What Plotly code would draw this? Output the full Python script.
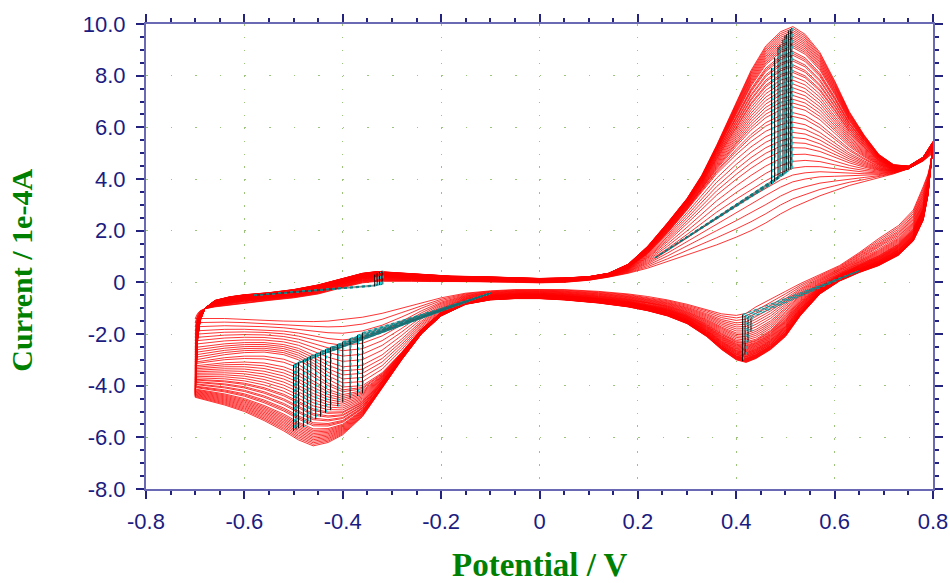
import plotly.graph_objects as go

# ---------------- data ----------------
# potentials of the forward (anodic) sweep, V
E_fwd = [-0.70, -0.698, -0.695, -0.69, -0.68, -0.66, -0.63, -0.60, -0.55, -0.50,
         -0.45, -0.40, -0.36, -0.33, -0.30, -0.26, -0.22, -0.18, -0.12, -0.05,
         0.0, 0.05, 0.10, 0.14, 0.18, 0.22, 0.26, 0.30, 0.33, 0.36,
         0.40, 0.43, 0.46, 0.49, 0.515, 0.54, 0.57, 0.60, 0.63, 0.66,
         0.69, 0.72, 0.75, 0.78, 0.80]
# forward sweep current (1e-4 A): first, a middle and the last cycle
I_fwd_first = [-1.40, -1.30, -1.20, -1.10, -1.02, -0.95, -0.88, -0.80, -0.70, -0.60,
               -0.45, -0.20, -0.02, 0.04, 0.05, 0.04, 0.03, 0.03, 0.03, 0.00,
               -0.02, 0.00, 0.08, 0.20, 0.35, 0.55, 0.80, 1.05, 1.25, 1.45,
               1.75, 2.00, 2.30, 2.65, 2.90, 3.10, 3.35, 3.55, 3.75, 3.90,
               4.05, 4.20, 4.40, 4.70, 5.00]
I_fwd_mid = [-3.00, -2.30, -1.70, -1.30, -1.00, -0.82, -0.72, -0.64, -0.55, -0.45,
             -0.28, -0.02, 0.17, 0.23, 0.22, 0.18, 0.15, 0.13, 0.12, 0.08,
             0.06, 0.08, 0.15, 0.28, 0.55, 1.10, 1.90, 2.80, 3.50, 4.20,
             4.95, 5.45, 5.85, 6.10, 6.20, 6.10, 5.80, 5.40, 5.00, 4.70,
             4.45, 4.35, 4.40, 4.75, 5.30]
I_fwd_last = [-4.45, -3.20, -2.20, -1.50, -1.00, -0.70, -0.56, -0.48, -0.40, -0.28,
              -0.10, 0.15, 0.35, 0.42, 0.38, 0.32, 0.27, 0.24, 0.22, 0.17,
              0.15, 0.17, 0.22, 0.35, 0.70, 1.40, 2.30, 3.25, 4.15, 5.30,
              6.95, 8.20, 9.15, 9.70, 9.90, 9.60, 8.90, 7.80, 6.60, 5.70,
              4.95, 4.55, 4.50, 4.85, 5.45]

# potentials of the reverse (cathodic) sweep, V
E_rev = [0.80, 0.795, 0.79, 0.78, 0.76, 0.73, 0.69, 0.65, 0.61, 0.57,
         0.53, 0.50, 0.47, 0.44, 0.42, 0.40, 0.37, 0.34, 0.30, 0.26,
         0.22, 0.18, 0.12, 0.05, 0.0, -0.05, -0.10, -0.15, -0.20, -0.24,
         -0.28, -0.32, -0.36, -0.40, -0.43, -0.46, -0.49, -0.52, -0.56, -0.60,
         -0.64, -0.67, -0.70]
I_rev_first = [5.00, 4.60, 4.20, 3.70, 2.80, 2.20, 1.70, 1.15, 0.65, 0.30,
               -0.05, -0.35, -0.65, -0.95, -1.20, -1.28, -1.22, -1.05, -0.85, -0.68,
               -0.55, -0.45, -0.35, -0.28, -0.27, -0.28, -0.33, -0.42, -0.60, -0.80,
               -1.00, -1.20, -1.35, -1.45, -1.50, -1.52, -1.52, -1.50, -1.47, -1.43,
               -1.40, -1.40, -1.40]
I_rev_mid = [5.30, 4.40, 3.70, 2.90, 2.10, 1.50, 1.05, 0.70, 0.30, -0.15,
             -0.70, -1.30, -1.85, -2.20, -2.30, -2.25, -1.95, -1.60, -1.25, -1.00,
             -0.85, -0.72, -0.60, -0.50, -0.46, -0.47, -0.52, -0.70, -1.15, -1.80,
             -2.70, -3.50, -4.00, -4.05, -3.75, -3.35, -3.00, -2.80, -2.70, -2.72,
             -2.80, -2.90, -3.00]
I_rev_last = [5.45, 4.30, 3.40, 2.40, 1.60, 1.05, 0.65, 0.38, 0.05, -0.45,
              -1.30, -2.10, -2.60, -2.95, -3.10, -3.00, -2.60, -2.10, -1.60, -1.30,
              -1.10, -0.95, -0.80, -0.68, -0.63, -0.63, -0.68, -0.85, -1.30, -2.00,
              -3.00, -4.10, -5.20, -5.90, -6.20, -6.33, -6.10, -5.75, -5.35, -5.00,
              -4.75, -4.60, -4.45]

# growth of each recorded cycle: 0 = first, 0.5 = middle, 1 = last (read from fan spacing)
cycle_growth = [0.00, 0.05, 0.10, 0.15, 0.19, 0.23, 0.27, 0.31, 0.35, 0.38,
                0.41, 0.44, 0.47, 0.50, 0.53, 0.55, 0.58, 0.60, 0.62, 0.64,
                0.66, 0.68, 0.70, 0.72, 0.74, 0.76, 0.77, 0.79, 0.80, 0.82,
                0.83, 0.85, 0.86, 0.87, 0.89, 0.90, 0.91, 0.92, 0.93, 0.94,
                0.95, 0.96, 0.97, 0.98, 0.99, 1.00]

# peak markers (potential, baseline current, peak current)
ox_peak_E = [0.472, 0.478, 0.485, 0.489, 0.495, 0.499, 0.502, 0.506, 0.510, 0.513]
ox_peak_base = [3.80, 3.90, 4.00, 4.10, 4.15, 4.20, 4.30, 4.35, 4.38, 4.40]
ox_peak_top = [8.30, 8.70, 9.10, 9.20, 9.40, 9.55, 9.60, 9.75, 9.80, 9.85]
ox_base_start = (0.235, 0.95)

red1_peak_E = [0.413, 0.418, 0.424, 0.430]
red1_peak_base = [-1.25, -1.30, -1.33, -1.36]
red1_peak_top = [-3.05, -2.80, -2.30, -1.90]
red1_base_end = (0.650, 0.45)

red2_peak_E = [-0.500, -0.495, -0.490, -0.480, -0.472, -0.465, -0.455, -0.445,
               -0.435, -0.425, -0.410, -0.400, -0.385, -0.370, -0.360]
red2_peak_base = [-3.20, -3.15, -3.10, -3.00, -2.92, -2.85, -2.78, -2.68,
                  -2.60, -2.52, -2.40, -2.30, -2.18, -2.05, -1.95]
red2_peak_top = [-5.75, -5.70, -5.65, -5.60, -5.50, -5.40, -5.30, -5.20,
                 -5.05, -4.95, -4.80, -4.65, -4.50, -4.40, -4.30]
red2_base_end = (-0.10, -0.42)

ox2_peak_E = [-0.335, -0.330, -0.325, -0.320]
ox2_peak_base = [-0.15, -0.12, -0.10, -0.08]
ox2_peak_top = [0.30, 0.35, 0.40, 0.45]
ox2_base_start = (-0.58, -0.50)

x_ticks = [-0.8, -0.6, -0.4, -0.2, 0.0, 0.2, 0.4, 0.6, 0.8]
x_tick_text = ["-0.8", "-0.6", "-0.4", "-0.2", "0", "0.2", "0.4", "0.6", "0.8"]
y_ticks = [-8, -6, -4, -2, 0, 2, 4, 6, 8, 10]
y_tick_text = ["-8.0", "-6.0", "-4.0", "-2.0", "0", "2.0", "4.0", "6.0", "8.0", "10.0"]

# ---------------- build figure ----------------
fig = go.Figure()


def cycle_current(g, first, mid, last):
    if g <= 0.5:
        t = g / 0.5
        return [a + t * (b - a) for a, b in zip(first, mid)]
    t = (g - 0.5) / 0.5
    return [a + t * (b - a) for a, b in zip(mid, last)]


xs, ys = [], []
for g in cycle_growth:
    xs += E_fwd + E_rev + [None]
    ys += (cycle_current(g, I_fwd_first, I_fwd_mid, I_fwd_last)
           + cycle_current(g, I_rev_first, I_rev_mid, I_rev_last) + [None])

fig.add_trace(go.Scatter(x=xs, y=ys, mode="lines",
                         line=dict(color="#ff0000", width=0.8),
                         hoverinfo="skip", showlegend=False))


def marker_traces(Es, bases, tops, anchor, anchor_first):
    bx, by, vx, vy, cx, cy = [], [], [], [], [], []
    for e, b, t in zip(Es, bases, tops):
        if anchor_first:
            bx += [anchor[0], e, None]
            by += [anchor[1], b, None]
        else:
            bx += [e, anchor[0], None]
            by += [b, anchor[1], None]
        vx += [e, e, None]
        vy += [b, t, None]
        cx += [e + 0.002, e + 0.002, None]
        cy += [b, t, None]
    fig.add_trace(go.Scatter(x=bx, y=by, mode="lines",
                             line=dict(color="#00c8d0", width=1.2, dash="dot"),
                             hoverinfo="skip", showlegend=False))
    fig.add_trace(go.Scatter(x=bx, y=by, mode="lines",
                             line=dict(color="#303030", width=0.6),
                             opacity=0.6, hoverinfo="skip", showlegend=False))
    fig.add_trace(go.Scatter(x=vx, y=vy, mode="lines",
                             line=dict(color="#000000", width=1),
                             hoverinfo="skip", showlegend=False))
    fig.add_trace(go.Scatter(x=cx, y=cy, mode="lines",
                             line=dict(color="#00d0d8", width=1, dash="dot"),
                             hoverinfo="skip", showlegend=False))


marker_traces(ox_peak_E, ox_peak_base, ox_peak_top, ox_base_start, True)
marker_traces(red1_peak_E, red1_peak_base, red1_peak_top, red1_base_end, False)
marker_traces(red2_peak_E, red2_peak_base, red2_peak_top, red2_base_end, False)
marker_traces(ox2_peak_E, ox2_peak_base, ox2_peak_top, ox2_base_start, True)

axis_line = "#6a6ab4"
tick_col = "#23237f"
label_font = dict(family="Liberation Sans, Arial, sans-serif", size=22, color="#1c1c80")

fig.update_xaxes(range=[-0.8, 0.8], tickvals=x_ticks, ticktext=x_tick_text,
                 showline=True, linecolor=axis_line, linewidth=2, mirror="allticks",
                 ticks="outside", ticklen=8, tickwidth=1.5, tickcolor=tick_col,
                 minor=dict(dtick=0.05, ticks="outside", ticklen=4, tickcolor=tick_col,
                            showgrid=False),
                 showgrid=True, gridcolor="#9cc47a", gridwidth=1.2,
                 griddash="1.5px,11.45px", automargin=False,
                 zeroline=False, tickfont=label_font, ticklabelstandoff=4)
fig.update_yaxes(range=[-8, 10], tickvals=y_ticks, ticktext=y_tick_text,
                 showline=True, linecolor=axis_line, linewidth=2, mirror="allticks",
                 ticks="outside", ticklen=8, tickwidth=1.5, tickcolor=tick_col,
                 minor=dict(dtick=0.5, ticks="outside", ticklen=4, tickcolor=tick_col,
                            showgrid=False),
                 showgrid=True, gridcolor="#9cc47a", gridwidth=1.2,
                 griddash="1.5px,23.1px", automargin=False,
                 zeroline=False, tickfont=label_font, ticklabelstandoff=6)

title_font = dict(family="Liberation Serif, Times New Roman, serif", size=33,
                  color="#008000")
fig.add_annotation(text="<b>Potential / V</b>", xref="paper", yref="paper",
                   x=0.5, y=-0.163, xanchor="center", yanchor="middle",
                   showarrow=False, font=title_font)
fig.add_annotation(text="<b>Current / 1e-4A</b>", xref="paper", yref="paper",
                   x=-0.158, y=0.471, xanchor="center", yanchor="middle",
                   textangle=-90, showarrow=False,
                   font=dict(family=title_font["family"], size=30, color="#008000"))

fig.update_layout(width=950, height=583,
                  margin=dict(l=146, r=17, t=24, b=94),
                  paper_bgcolor="white", plot_bgcolor="white",
                  showlegend=False)

fig.write_html("out.html")
